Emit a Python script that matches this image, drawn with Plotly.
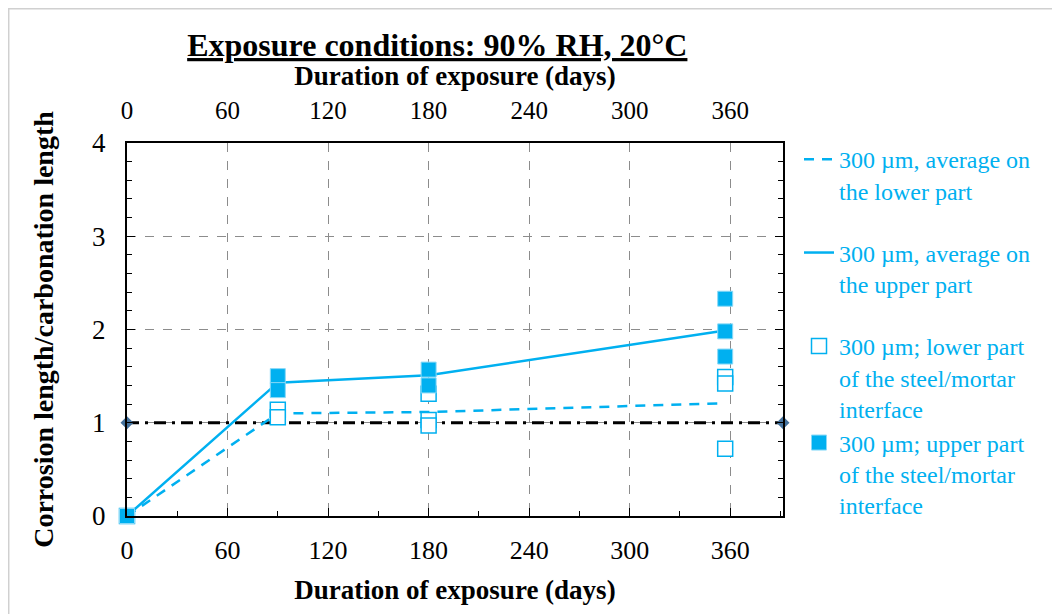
import plotly.graph_objects as go

# duration of exposure (days) for the averaged curves
avg_days = [0, 90, 180, 357]
lower_avg = [0, 1.10, 1.115, 1.21]
upper_avg = [0, 1.43, 1.51, 1.99]

# individual measurements
lower_days = [0, 90, 90, 180, 180, 180, 357, 357, 357]
lower_vals = [0, 1.14, 1.06, 1.31, 1.03, 0.97, 1.49, 1.42, 0.72]
upper_days = [0, 90, 90, 180, 180, 357, 357, 357]
upper_vals = [0, 1.50, 1.35, 1.57, 1.40, 2.33, 1.98, 1.71]

ref_days = [0, 391.5]
ref_vals = [1, 1]

tick_days = [0, 60, 120, 180, 240, 300, 360]

CYAN = "#00B0F0"
FONT = "Liberation Serif"

fig = go.Figure()

# reference ratio = 1
fig.add_trace(go.Scatter(
    x=ref_days, y=ref_vals, mode="lines+markers", showlegend=False,
    line=dict(color="black", width=3, dash="12px,6px,3px,6px"),
    marker=dict(symbol="diamond", size=10, color="#44729E"),
    cliponaxis=False, hoverinfo="skip"))

fig.add_trace(go.Scatter(
    x=avg_days, y=lower_avg, mode="lines", legendgroup="a",
    name="300 µm, average on<br>the lower part",
    line=dict(color=CYAN, width=2.5, dash="10px,8px")))

fig.add_trace(go.Scatter(
    x=avg_days, y=upper_avg, mode="lines", legendgroup="b",
    name="300 µm, average on<br>the upper part",
    line=dict(color=CYAN, width=2.5)))

fig.add_trace(go.Scatter(
    x=lower_days, y=lower_vals, mode="markers", legendgroup="c",
    name="300 µm; lower part<br>of the steel/mortar<br>interface",
    marker=dict(symbol="square", size=15, color="white",
                line=dict(color=CYAN, width=1.5)),
    cliponaxis=False))

fig.add_trace(go.Scatter(
    x=upper_days, y=upper_vals, mode="markers", legendgroup="c",
    name="300 µm; upper part<br>of the steel/mortar<br>interface",
    marker=dict(symbol="square", size=15, color=CYAN,
                line=dict(color="#8AD9F7", width=1)),
    cliponaxis=False))

# invisible trace to carry the top axis
fig.add_trace(go.Scatter(x=[0], y=[0], xaxis="x2", mode="markers",
                         marker=dict(opacity=0), showlegend=False,
                         hoverinfo="skip"))

fig.update_layout(
    width=1060, height=614,
    margin=dict(l=119, r=285, t=135, b=106),
    paper_bgcolor="white", plot_bgcolor="white",
    font=dict(family=FONT, color="black"),
    title=dict(text="<b><u>Exposure conditions: 90% RH, 20°C</u></b>",
               x=0.405, xanchor="center", y=0.94, yanchor="middle",
               font=dict(size=32, family=FONT)),
    xaxis=dict(
        range=[0, 391.5], tickvals=tick_days, tickfont=dict(size=26),
        ticks="inside", ticklen=8, tickcolor="black",
        minor=dict(ticks="inside", dtick=30, ticklen=5, tickcolor="black"),
        showline=True, linecolor="black", linewidth=2, mirror=True,
        showgrid=True, gridcolor="#8C8C8C", griddash="dash", gridwidth=1,
        zeroline=False, ticklabelstandoff=10,
        title=dict(text="<b>Duration of exposure (days)</b>",
                   font=dict(size=27), standoff=16)),
    xaxis2=dict(
        overlaying="x", side="top", range=[0, 391.5], tickvals=tick_days,
        tickfont=dict(size=25), ticks="", showgrid=False, showline=False,
        zeroline=False, ticklabelstandoff=18,
        title=dict(text="<b>Duration of exposure (days)</b>",
                   font=dict(size=27), standoff=3)),
    yaxis=dict(
        range=[0, 4], dtick=1, tickfont=dict(size=27),
        ticks="inside", ticklen=8, tickcolor="black",
        minor=dict(ticks="inside", dtick=0.2, ticklen=5, tickcolor="black"),
        showline=True, linecolor="black", linewidth=2, mirror="ticks",
        showgrid=True, gridcolor="#8C8C8C", griddash="dash", gridwidth=1,
        zeroline=False, ticklabelstandoff=14,
        title=dict(text="<b>Corrosion length/carbonation length</b>",
                   font=dict(size=28), standoff=30)),
    legend=dict(
        x=1.0244, y=1.016, xanchor="left", yanchor="top",
        font=dict(size=24, color=CYAN, family=FONT),
        traceorder="grouped", tracegroupgap=28, valign="top",
        maxheight=580, bgcolor="rgba(0,0,0,0)"),
    shapes=[dict(type="rect", xref="paper", yref="paper",
                 x0=-0.1803, x1=1.6, y0=-0.4, y1=1.3599,
                 line=dict(color="#D0D0D0", width=1.5), layer="below")],
)

fig.write_html("out.html")
